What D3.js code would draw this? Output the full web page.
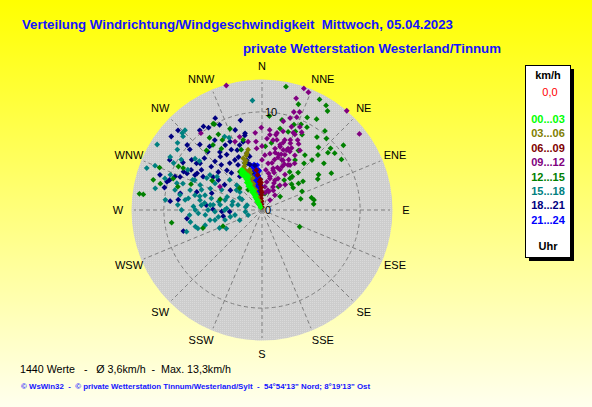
<!DOCTYPE html>
<html><head><meta charset="utf-8">
<script src="https://cdn.jsdelivr.net/npm/d3@7"></script>
<style>html,body{margin:0;padding:0;overflow:hidden;background:#fff}svg{display:block}</style>
</head><body>
<svg id="chart" width="592" height="407"></svg>
<script>
// ---------- data ----------
const titleText = "Verteilung Windrichtung/Windgeschwindigkeit  Mittwoch, 05.04.2023";
const subtitleText = "private Wetterstation Westerland/Tinnum";
const statsText = "1440 Werte   -   \u00D8 3,6km/h  -  Max. 13,3km/h";
const footerText = "\u00A9 WsWin32  -  \u00A9 private Wetterstation Tinnum/Westerland/Sylt  -  54\u00B054'13\" Nord; 8\u00B019'13\" Ost";
const compassLabels = ["N","NNE","NE","ENE","E","ESE","SE","SSE","S","SSW","SW","WSW","W","WNW","NW","NNW"];
const speedTicks = [0, 10];
const maxSpeed = 13.3;
const calmValue = "0,0";
const hourBins = ["00...03","03...06","06...09","09...12","12...15","15...18","18...21","21...24"];
const binColors = ["#00ff00","#808000","#800000","#800080","#008000","#008080","#000080","#0000ff"];

// [direction in degrees, speed in km/h]
const h00_03 = [[334,4.3],[333,4.1],[336,4.0],[332,3.9],[334,3.7],[337,3.6],[333,3.5],[335,3.3],[331,3.2],[334,3.0],[336,2.9],[333,2.7],[335,2.5],[332,2.4],[334,2.2],[337,2.1],[333,1.9],[335,1.7],[332,1.5],[334,1.3],[336,1.1],[333,0.9],[335,0.7],[334,0.5],[333,0.3],[330,4.2],[333,4.6],[338,3.8],[330,2.8],[338,1.6],[331,1.0],[331,2.1],[334,4.5],[332,4.4],[335,4.2],[333,3.8],[332,3.1],[336,2.3],[334,1.7],[333,1.2],[332,0.6]];
const h03_06 = [[347,6.3],[345,6.0],[340,5.6],[342,5.3],[340,5.1],[338,4.8],[337,4.4],[339,4.1],[341,3.8],[338,3.4],[340,3.0],[339,2.6],[342,2.2],[340,1.8],[341,1.4],[343,1.0],[344,5.8],[336,4.6],[343,4.0],[336,3.6],[343,4.3],[344,3.4],[342,2.8]];
const h06_09 = [[357,3.1],[358,2.8],[356,2.6],[358,2.3],[357,2.0],[359,1.8],[357,1.5],[355,1.2],[358,0.9],[356,0.6],[358,0.3],[355,2.9],[352,4.1],[353,3.6]];
const h09_12 = [[19,13.1],[21.5,12.9],[17,11.9],[40.5,13.3],[52,12.6],[18,10.5],[21,10.7],[17,9.8],[13.5,9.3],[20.5,10.1],[24.5,9.3],[19.5,9.0],[15,8.3],[10.5,7.8],[4,7.3],[359.5,8.4],[12,7.3],[18,7.5],[23,7.4],[29,7.7],[15.5,6.9],[0,6.5],[23,6.8],[344,13.2],[321.5,10.0],[355,7.9],[343,7.8],[338.5,7.5],[355,7.0],[355,6.3],[12,6.4],[19.5,6.5],[25.5,6.6],[16.5,5.9],[8,5.8],[3,5.6],[14,5.3],[21.5,5.5],[7.5,4.8],[15,4.4],[27,3.6],[10,3.8],[9.5,2.9],[7,2.4],[14,3.3],[25.5,7.0],[16,6.7],[23,5.5],[15.5,4.2],[13.5,3.5],[17,5.6],[22.5,6.6],[22,7.7],[27,8.0],[27,8.9],[22,8.5],[17.5,7.2],[25.5,2.6],[10,1.8],[30,5.3],[33,4.3],[36,3.1],[41,2.0],[39,1.3],[31,6.5],[348.5,7.1],[5.5,8.2],[11,8.0],[9,7.2],[299,4.9],[20,4.6],[25,4.9],[28,5.8],[12,4.9],[18,4.0],[24,3.0],[30,2.3],[20,2.0],[35,5.8],[26,5.2],[19,6.0],[13,6.0],[22.5,6.1],[32,5.4],[24,4.5],[23.5,3.3],[42.5,3.5],[16.5,2.1],[23.5,8.4],[32.5,7.2],[6,7.7],[0,5.1],[5.5,4.1]];
const h12_15 = [[11,12.8],[27.5,12.7],[31.5,12.5],[33.5,12.1],[19,11.4],[26,10.5],[31,10.8],[12.5,9.4],[4.5,9.6],[20.5,9.3],[24.5,9.6],[28.5,9.6],[38.5,10.3],[18.5,8.4],[23,8.7],[12.5,8.5],[28,8.7],[37,9.3],[42,9.8],[51.5,10.6],[48,9.4],[42,8.6],[8,6.9],[3,6.5],[49,8.9],[52,9.4],[45.5,8.0],[45,7.2],[38,7.1],[31.5,7.1],[57.5,9.6],[53,7.9],[42,6.4],[44,5.3],[36,4.8],[42,4.6],[36.5,3.8],[54,4.6],[61,6.5],[62,8.0],[49,4.0],[54.5,3.9],[35,2.9],[65,4.5],[53.5,2.3],[74,4.1],[76,5.2],[79,5.4],[83.5,5.3],[10,1.7],[114,4.2],[58,6.8],[41.5,4.3],[55,5.1],[33.5,6.1],[331,10.0],[338.5,8.9],[330,8.9],[324,9.1],[330.5,8.2],[323,8.3],[326.5,7.5],[317,8.3],[341,6.5],[345,7.4],[292.5,11.3],[297.5,9.6],[340,5.1],[285.5,11.5],[284.5,10.7],[277.5,12.6],[277.5,12.2],[262,9.3],[253,6.3],[247.5,4.3],[314.5,3.2],[285.5,8.9],[325.5,2.5],[284.5,4.4],[290,7.7],[300.5,5.9],[330.5,10.1],[289.5,9.6],[298,9.1],[330,4.5]];
const h15_18 = [[355,11.2],[316,11.3],[314,11.3],[313,11.0],[302,12.6],[305.5,10.6],[300,10.8],[302,9.7],[307.5,8.6],[292.5,11.8],[290,12.5],[333,8.4],[335.5,8.1],[298,10.2],[308,8.1],[281.5,11.1],[291,10.0],[288.5,8.5],[293.5,7.7],[300,6.5],[306.5,5.7],[313,4.5],[314.5,3.6],[280.5,8.5],[279,7.6],[279,6.4],[274.5,6.2],[283,5.3],[281,4.5],[290.5,3.8],[286,3.1],[298,2.3],[288,1.6],[270,8.2],[273,7.0],[270,5.5],[268,4.8],[272.5,3.6],[279.5,3.1],[264,1.7],[261,4.5],[259,5.4],[256,7.0],[254,6.8],[254,8.0],[258,3.3],[308,3.3],[288.5,6.5],[285.5,7.6],[292.5,5.7],[296.5,4.6],[299.5,5.5],[242.5,4.1],[267,6.5],[280.5,1.7],[277,5.9],[282.5,6.5],[276,5.0],[288,10.4],[287.5,9.1],[298.5,8.6],[294,7.5],[284.5,6.0],[275.5,5.3],[277,4.3],[285,3.9],[282,2.5],[265,5.8],[258,4.9],[255,3.9],[292,6.8],[266,7.4],[283,9.1],[276,9.9],[259.5,2.8],[309,2.9],[277.5,7.9],[282.5,7.0],[304,6.4],[308.5,11.0],[260.5,7.4],[255,6.0],[247,4.7],[245.5,2.5],[270,6.8],[270,3.8],[273.5,8.6],[298.5,2.6],[250,1.5]];
const h18_21 = [[309,11.9],[325,10.4],[327,10.0],[335,7.7],[347.5,8.0],[320.5,8.4],[327.5,6.7],[336,5.9],[322,6.9],[333,6.9],[316,6.9],[312,7.9],[305.5,8.2],[299.5,8.3],[303.5,7.4],[310.5,6.8],[318,6.2],[325.5,5.8],[332,5.2],[343,5.3],[296,8.9],[318.5,5.4],[311,5.9],[275.5,9.4],[277,8.6],[263.5,7.7],[255,8.3],[271,5.0],[268,4.1],[267,3.3],[261,4.0],[275,5.7],[285.5,6.9],[288.5,5.4],[304,4.6],[296,8.5],[299.5,6.9],[304.5,5.4],[320.5,4.9],[291,9.5],[286.5,10.1],[326.5,4.1],[299.5,7.6],[292,9.0],[307,7.9],[337.5,6.6],[344.5,7.2],[324,7.3],[317,8.1],[305.5,8.8],[301,9.4],[288,9.9],[283,10.2],[281.5,8.5],[304,6.0],[345,6.0],[342.5,5.0],[351,4.6],[345,3.9],[338,3.3],[302,3.8],[341,7.0],[347,7.8],[347,5.6],[331.5,5.8],[330.5,7.6],[326,8.6],[316.5,9.2],[310,9.6],[297.5,7.7],[334,4.0],[345,4.8],[341.5,8.6],[333.5,9.7],[346.5,9.4],[313.5,11.8],[322,10.3],[333,10.5],[311,10.1],[298.5,10.7],[289,11.0]];
const h21_24 = [[350,4.7],[351,4.5],[349,4.3],[352,4.2],[348,4.0],[351,3.9],[353,3.8],[350,3.6],[348,3.5],[352,3.3],[349,3.1],[352,2.9],[348,2.8],[351,2.6],[347,2.4],[352,2.2],[349,2.0],[347,1.8],[351,1.6],[346,1.4],[349,1.2],[347,1.0],[351,0.8],[348,0.6],[354,3.5],[355,4.1],[354,2.7],[347,4.6],[346,3.2],[354,4.6],[356,4.0],[356,3.2],[357,2.5]];
const seriesData = [h00_03,h03_06,h06_09,h09_12,h12_15,h15_18,h18_21,h21_24];

// ---------- drawing ----------
const svg = d3.select("#chart");
const W = 592, H = 407;
const cx = 262, cy = 210, R = 130.5;
const font = "Liberation Sans, Arial, sans-serif";
const defs = svg.append("defs");
const bg = defs.append("linearGradient").attr("id","bg").attr("x1",0).attr("y1",0).attr("x2",0).attr("y2",1);
bg.append("stop").attr("offset","0%").attr("stop-color","#ffff00");
bg.append("stop").attr("offset","100%").attr("stop-color","#ffffee");
const pat = defs.append("pattern").attr("id","dots").attr("width",2).attr("height",2).attr("patternUnits","userSpaceOnUse");
pat.append("rect").attr("width",2).attr("height",2).attr("fill","#cdcdcd");
pat.append("rect").attr("width",1).attr("height",1).attr("fill","#dadada");

svg.append("rect").attr("width",W).attr("height",H).attr("fill","url(#bg)");

const r = d3.scaleLinear().domain([0, maxSpeed]).range([0, R]);
const ang = d3.scaleLinear().domain([0, 360]).range([0, 2*Math.PI]);
const px = (d, s) => cx + r(s) * Math.sin(ang(d));
const py = (d, s) => cy - r(s) * Math.cos(ang(d));

const plot = svg.append("g");
plot.append("circle").attr("cx",cx).attr("cy",cy).attr("r",R).attr("fill","url(#dots)");

// spokes
const dirs = compassLabels.map((_, i) => i * 360 / compassLabels.length);
plot.selectAll("line.spoke").data(dirs).join("line").attr("class","spoke")
  .attr("x1",cx).attr("y1",cy)
  .attr("x2",d => px(d, 13.05)).attr("y2",d => py(d, 13.05))
  .attr("stroke","#7f7f7f").attr("stroke-width",1).attr("stroke-dasharray","4,3");
// ring
plot.selectAll("circle.ring").data(speedTicks.filter(v => v > 0)).join("circle").attr("class","ring")
  .attr("cx",cx).attr("cy",cy).attr("r",d => r(d))
  .attr("fill","none").attr("stroke","#7f7f7f").attr("stroke-width",1).attr("stroke-dasharray","4,3");

// points: later hours drawn first, earliest on top
const diamond = "M0,-2.9L2.9,0L0,2.9L-2.9,0Z";
d3.range(seriesData.length - 1, -1, -1).forEach(i => {
  plot.append("g").selectAll("path").data(seriesData[i]).join("path")
    .attr("d", diamond)
    .attr("transform", d => `translate(${px(d[0], d[1]).toFixed(2)},${py(d[0], d[1]).toFixed(2)})`)
    .attr("fill", binColors[i]);
});

// speed labels
plot.selectAll("text.tick").data(speedTicks).join("text").attr("class","tick")
  .attr("x", cx + 3).attr("y", d => cy - r(d))
  .attr("dy","0.35em")
  .attr("font-family",font).attr("font-size",11)
  .attr("fill","#000").text(d => d);

// compass labels
const nudge = [0,2.5,0,0,0,0,0,-2.5,0,2.5,0,0,0,0,0,-2.5];
svg.selectAll("text.cmp").data(compassLabels).join("text").attr("class","cmp")
  .attr("x",(d,i) => cx + 144 * Math.sin(ang(dirs[i] + nudge[i])))
  .attr("y",(d,i) => cy - 144 * Math.cos(ang(dirs[i] + nudge[i])))
  .attr("dy","0.35em").attr("text-anchor","middle")
  .attr("font-family",font).attr("font-size",11)
  .attr("fill","#000").text(d => d);

// titles
svg.append("text").attr("x",22).attr("y",28.5).attr("font-family",font).attr("font-weight","bold")
  .attr("font-size",13).attr("fill","#1414ff").attr("textLength",431).attr("lengthAdjust","spacingAndGlyphs")
  .style("white-space","pre").text(titleText);
svg.append("text").attr("x",243).attr("y",53).attr("font-family",font).attr("font-weight","bold")
  .attr("font-size",13).attr("fill","#1414ff").attr("textLength",258).attr("lengthAdjust","spacingAndGlyphs")
  .text(subtitleText);
svg.append("text").attr("x",20).attr("y",373).attr("font-family",font)
  .attr("font-size",11).attr("fill","#000").attr("textLength",211).attr("lengthAdjust","spacingAndGlyphs")
  .style("white-space","pre").text(statsText);
svg.append("text").attr("x",21).attr("y",388.5).attr("font-family",font).attr("font-weight","bold")
  .attr("font-size",8).attr("fill","#1414ff").attr("textLength",349).attr("lengthAdjust","spacingAndGlyphs")
  .style("white-space","pre").text(footerText);

// legend
const lg = svg.append("g");
lg.append("rect").attr("x",529).attr("y",69).attr("width",45).attr("height",192).attr("fill","#000");
lg.append("rect").attr("x",525.5).attr("y",65.5).attr("width",45).attr("height",192).attr("fill","#fff").attr("stroke","#000").attr("stroke-width",1);
const lx = 548;
lg.append("text").attr("x",lx).attr("y",79).attr("text-anchor","middle").attr("font-family",font)
  .attr("font-weight","bold").attr("font-size",11).attr("fill","#000").text("km/h");
lg.append("text").attr("x",lx+2).attr("y",96).attr("text-anchor","middle").attr("font-family",font)
  .attr("font-size",11).attr("fill","#ff0000").text(calmValue);
lg.selectAll("text.bin").data(hourBins).join("text").attr("class","bin")
  .attr("x",lx).attr("y",(d,i) => 123 + i * 14.4).attr("text-anchor","middle")
  .attr("font-family",font).attr("font-weight","bold").attr("font-size",11)
  .attr("fill",(d,i) => binColors[i]).text(d => d);
lg.append("text").attr("x",lx).attr("y",250).attr("text-anchor","middle").attr("font-family",font)
  .attr("font-weight","bold").attr("font-size",11).attr("fill","#000").text("Uhr");
</script>
</body></html>
